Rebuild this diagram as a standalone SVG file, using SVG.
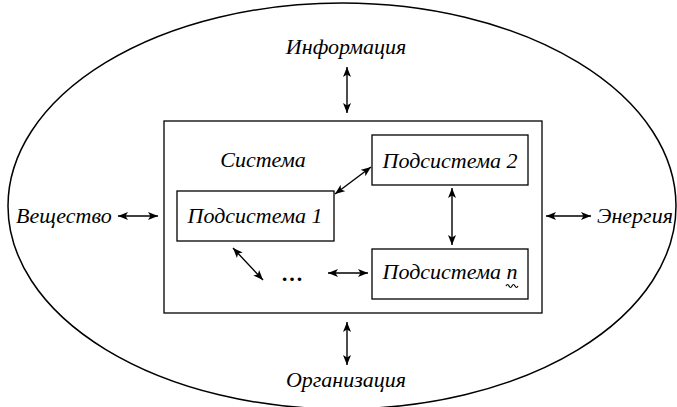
<svg xmlns="http://www.w3.org/2000/svg" width="677" height="407" viewBox="0 0 677 407">
<style>
text{font-family:"Liberation Serif","Times New Roman",serif;font-style:italic;font-size:22px;fill:#000}
.b{fill:#fff;stroke:#000;stroke-width:1.3}
.c{stroke:#000;stroke-width:1.4;fill:none;marker-start:url(#ah);marker-end:url(#ah)}
</style>
<defs>
<marker id="ah" viewBox="0 0 10 8" refX="10" refY="4" markerWidth="10" markerHeight="8" markerUnits="userSpaceOnUse" orient="auto-start-reverse">
<path d="M0,0 L10,4 L0,8 L2.5,4 Z" fill="#000"/>
</marker>
</defs>
<rect width="677" height="407" fill="#fff"/>
<g id="env">
<ellipse cx="342" cy="206" rx="334" ry="203" fill="none" stroke="#000" stroke-width="1.5"/>
</g>
<g id="system">
<rect class="b" x="164" y="121" width="378" height="192"/>
<text x="263" y="167" text-anchor="middle">Система</text>
</g>
<g id="sub1">
<rect class="b" x="177" y="191" width="157" height="50"/>
<text x="255" y="223" text-anchor="middle">Подсистема 1</text>
</g>
<g id="sub2">
<rect class="b" x="372" y="135" width="156" height="50"/>
<text x="450" y="168" text-anchor="middle">Подсистема 2</text>
</g>
<g id="subn">
<rect class="b" x="372" y="249" width="156" height="50"/>
<text x="450" y="279" text-anchor="middle">Подсистема n</text>
<path d="M506,286 q1.5,-3 3,0 t3,0 t3,0 t3,0" fill="none" stroke="#000" stroke-width="1.2"/>
</g>
<g id="info"><text x="346" y="54" text-anchor="middle">Информация</text></g>
<g id="org"><text x="346" y="387" text-anchor="middle">Организация</text></g>
<g id="matter"><text x="16" y="223">Вещество</text></g>
<g id="energy"><text x="597" y="223">Энергия</text></g>
<g id="dots"><text x="292" y="281" text-anchor="middle" style="font-style:normal;font-weight:bold">…</text></g>
<g id="connectors">
<line class="c" x1="347" y1="67" x2="347" y2="113"/>
<line class="c" x1="347" y1="322" x2="347" y2="365"/>
<line class="c" x1="118" y1="216" x2="158" y2="216"/>
<line class="c" x1="546" y1="216" x2="591" y2="216"/>
<line class="c" x1="335" y1="194" x2="371" y2="167"/>
<line class="c" x1="452" y1="188" x2="452" y2="245"/>
<line class="c" x1="233" y1="248" x2="263" y2="280"/>
<line class="c" x1="328" y1="273" x2="368" y2="273"/>
</g>
</svg>
